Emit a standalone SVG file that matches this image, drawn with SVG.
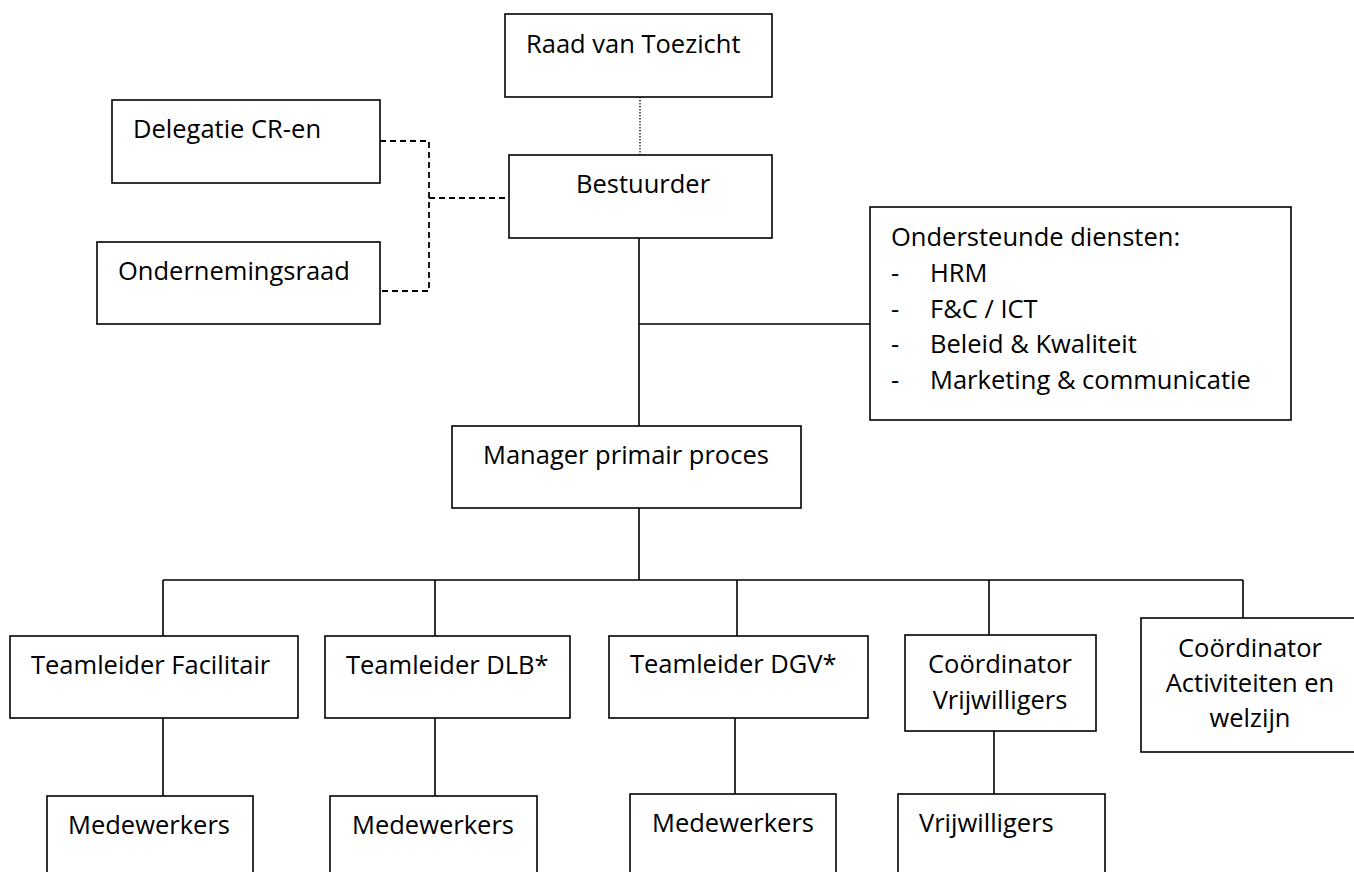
<svg xmlns="http://www.w3.org/2000/svg" width="1354" height="872" viewBox="0 0 1354 872">
<style>
.box{fill:#fff;stroke:#000;stroke-width:1.6}
.t{font-family:"Open Sans","Liberation Sans",Arial,sans-serif;font-size:25.5px;fill:#000}
.c{text-anchor:middle}
.ln{fill:none;stroke:#000;stroke-width:1.6}
.dash{fill:none;stroke:#000;stroke-width:1.8;stroke-dasharray:6 4}
.dot{fill:none;stroke:#000;stroke-width:1.2;stroke-dasharray:1.5 1.5}
</style>
<rect width="1354" height="872" fill="#fff"/>
<g id="connectors">
<path class="dot" d="M640 97V155"/>
<path class="dash" d="M380 141H429V291H380M429 198H509"/>
<path class="ln" d="M639 238V426M639 324H870"/>
<path class="ln" d="M639 508V580M163 580H1243M163 580V636M435 580V636M737 580V636M989 580V635M1243 580V618"/>
<path class="ln" d="M163 718V796M435 718V796M735 718V794M994 731V794"/>
</g>
<g id="raad"><rect class="box" x="505" y="14" width="267" height="83"/><text class="t" x="526" y="53">Raad van Toezicht</text></g>
<g id="delegatie"><rect class="box" x="112" y="100" width="268" height="83"/><text class="t" x="133" y="138">Delegatie CR-en</text></g>
<g id="bestuurder"><rect class="box" x="509" y="155" width="263" height="83"/><text class="t" x="576" y="193">Bestuurder</text></g>
<g id="or"><rect class="box" x="97" y="242" width="283" height="82"/><text class="t" x="118" y="280">Ondernemingsraad</text></g>
<g id="ondersteunde"><rect class="box" x="870" y="207" width="421" height="213"/>
<text class="t" x="891" y="246">Ondersteunde diensten:</text>
<text class="t" x="891" y="282">-</text><text class="t" x="930" y="282">HRM</text>
<text class="t" x="891" y="318">-</text><text class="t" x="930" y="318">F&amp;C / ICT</text>
<text class="t" x="891" y="353">-</text><text class="t" x="930" y="353">Beleid &amp; Kwaliteit</text>
<text class="t" x="891" y="389">-</text><text class="t" x="930" y="389">Marketing &amp; communicatie</text>
</g>
<g id="manager"><rect class="box" x="452" y="426" width="349" height="82"/><text class="t" x="483" y="464">Manager primair proces</text></g>
<g id="tl-facilitair"><rect class="box" x="10" y="636" width="288" height="82"/><text class="t" x="31" y="674">Teamleider Facilitair</text></g>
<g id="tl-dlb"><rect class="box" x="325" y="636" width="245" height="82"/><text class="t" x="346" y="674">Teamleider DLB*</text></g>
<g id="tl-dgv"><rect class="box" x="609" y="636" width="259" height="82"/><text class="t" x="630" y="673">Teamleider DGV*</text></g>
<g id="coord-vrijw"><rect class="box" x="905" y="635" width="191" height="96"/><text class="t c" x="1000" y="673">Coördinator</text><text class="t c" x="1000" y="709">Vrijwilligers</text></g>
<g id="coord-act"><rect class="box" x="1141" y="618" width="230" height="134"/><text class="t c" x="1250" y="657">Coördinator</text><text class="t c" x="1250" y="692">Activiteiten en</text><text class="t c" x="1250" y="727">welzijn</text></g>
<g id="mw1"><rect class="box" x="47" y="796" width="206" height="90"/><text class="t" x="68" y="834">Medewerkers</text></g>
<g id="mw2"><rect class="box" x="330" y="796" width="207" height="90"/><text class="t" x="352" y="834">Medewerkers</text></g>
<g id="mw3"><rect class="box" x="630" y="794" width="206" height="92"/><text class="t" x="652" y="832">Medewerkers</text></g>
<g id="vrijw"><rect class="box" x="898" y="794" width="207" height="92"/><text class="t" x="919" y="832">Vrijwilligers</text></g>
</svg>
